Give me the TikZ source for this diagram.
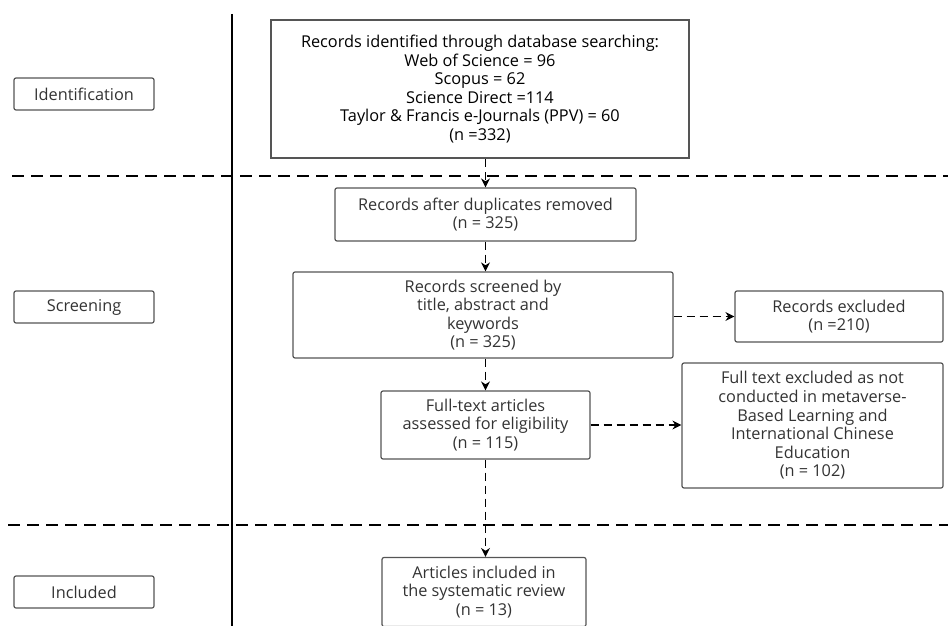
\documentclass[tikz,border=0pt]{standalone}
\usepackage{fontspec}
\setmainfont{Open Sans}
\usetikzlibrary{arrows.meta}
\definecolor{bordergray}{HTML}{555555}
\definecolor{txtgray}{HTML}{333333}
\tikzset{
  box/.style={draw=bordergray, line width=1.2pt, rounded corners=2pt, align=center, inner sep=2pt, text=txtgray, font=\fontsize{16.3}{18.6}\selectfont},
  mainbox/.style={draw=bordergray, line width=2.2pt, align=center, inner sep=2pt, text=black, font=\fontsize{16.3}{18.6}\selectfont},
  stagebox/.style={box, minimum width=140pt, minimum height=32pt},
  flowarrow/.style={-{Stealth[length=9pt,width=9pt]}, line width=1.5pt, dash pattern=on 8pt off 5pt, black},
  sepline/.style={line width=1.2pt, dash pattern=on 12pt off 7pt, black},
}
\begin{document}
\begin{tikzpicture}[x=1pt, y=-1pt]
\useasboundingbox (0,0) rectangle (948,626);
% lane structure
\coordinate (vtop) at (232,14);
\coordinate (vbot) at (232,626);
\draw[line width=1.4pt, black] (vtop) -- (vbot);
\coordinate (s1a) at (12,176);
\coordinate (s1b) at (948,176);
\coordinate (s2a) at (8,525);
\coordinate (s2b) at (948,525);
\draw[sepline] (s1a) -- (s1b);
\draw[sepline] (s2a) -- (s2b);
% stage labels
\node[stagebox] (ident) at (84,94) {Identification};
\node[stagebox] (screen) at (84,307) {Screening};
\node[stagebox] (incl) at (84,592) {Included};
% flow boxes
\node[mainbox, minimum width=418pt, minimum height=138pt] (top) at (480,89)
  {Records identified through database searching:\\Web of Science = 96\\Scopus = 62\\Science Direct =114\\Taylor \& Francis e-Journals (PPV) = 60\\(n =332)};
\node[box, minimum width=301pt, minimum height=53pt] (dup) at (485.5,214.5)
  {Records after duplicates removed\\(n = 325)};
\node[box, minimum width=380pt, minimum height=86pt] (scr) at (483,315)
  {Records screened by\\title, abstract and\\keywords\\(n = 325)};
\node[box, minimum width=208pt, minimum height=51pt] (exc) at (839,316.5)
  {Records excluded\\(n =210)};
\node[box, minimum width=209pt, minimum height=68pt] (ft) at (485.5,425)
  {Full-text articles\\assessed for eligibility\\(n = 115)};
\node[box, minimum width=261pt, minimum height=125pt] (ftx) at (812.5,425.5)
  {Full text excluded as not\\conducted in metaverse-\\Based Learning and\\International Chinese\\Education\\(n = 102)};
\node[box, minimum width=204pt, minimum height=69pt] (inc) at (484,592)
  {Articles included in\\the systematic review\\(n = 13)};
% connectors
\draw[flowarrow] (dup.north |- top.south) -- (dup.north);
\draw[flowarrow] (dup.south) -- (dup.south |- scr.north);
\draw[flowarrow] (scr.east |- exc.west) -- (exc.west);
\draw[flowarrow] (ft.north |- scr.south) -- (ft.north);
\draw[flowarrow] (ft.east) -- (ft.east -| ftx.west);
\draw[flowarrow] (ft.south) -- (ft.south |- inc.north);
\end{tikzpicture}
\end{document}
